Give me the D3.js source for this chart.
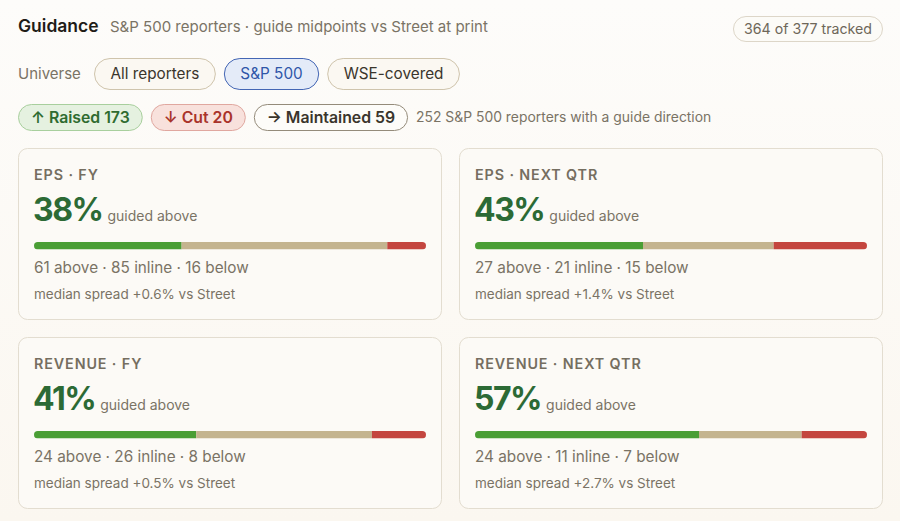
<!DOCTYPE html>
<html>
<head>
<meta charset="utf-8">
<style>
  html, body { margin: 0; padding: 0; }
  body { width: 900px; height: 521px; overflow: hidden; font-family: Inter, "Noto Sans", sans-serif; }
  svg text { font-family: Inter, "Noto Sans", sans-serif; }
</style>
</head>
<body>
<svg width="900" height="521"></svg>
<script src="https://d3js.org/d3.v7.min.js"></script>
<script>
// guide data
const universes = ["All reporters", "S&P 500", "WSE-covered"];
const activeUniverse = "S&P 500";
const directions = ["Raised", "Cut", "Maintained"];
const directionCounts = [173, 20, 59];
const cardTitles = ["EPS · FY", "EPS · NEXT QTR", "REVENUE · FY", "REVENUE · NEXT QTR"];
const above = [61, 27, 24, 24];
const inline = [85, 21, 26, 11];
const below = [16, 15, 8, 7];
const medianSpread = [0.6, 1.4, 0.5, 2.7];
const tracked = 364, trackedOf = 377;

const svg = d3.select("svg");
const W = 900, H = 521;

const defs = svg.append("defs");
const bg = defs.append("linearGradient").attr("id", "bg").attr("x1", 0).attr("y1", 0).attr("x2", 0).attr("y2", 1);
bg.append("stop").attr("offset", 0).attr("stop-color", "#fdfcfa");
bg.append("stop").attr("offset", 1).attr("stop-color", "#fbf7f0");
svg.append("rect").attr("width", W).attr("height", H).attr("fill", "url(#bg)");

const muted = "#7a7365";

// header
svg.append("text").attr("x", 18).attr("y", 32).attr("font-size", 17.5).attr("font-weight", 600)
  .attr("fill", "#1f1c17").text("Guidance");
svg.append("text").attr("x", 110).attr("y", 32).attr("font-size", 15).attr("fill", muted)
  .text("S&P 500 reporters · guide midpoints vs Street at print");

// pill helper, sized from its text
function pill(x, y, h, label, o) {
  const g = svg.append("g");
  const t = g.append("text").attr("y", y + h / 2).attr("dy", "0.35em")
    .attr("font-size", o.size).attr("font-weight", o.weight || 400).attr("fill", o.color).text(label);
  const w = t.node().getComputedTextLength() + o.pad * 2;
  const x0 = o.anchorRight ? x - w : x;
  t.attr("x", x0 + o.pad);
  g.insert("rect", "text").attr("x", x0 + 0.5).attr("y", y + 0.5).attr("width", w - 1).attr("height", h - 1)
    .attr("rx", (h - 1) / 2).attr("fill", o.fill).attr("stroke", o.stroke).attr("stroke-width", o.sw || 1);
  return x0 + w;
}

pill(883, 16, 26, `${tracked} of ${trackedOf} tracked`,
  { size: 14.2, color: "#6e6759", fill: "#fcfbf7", stroke: "#ddd6c8", pad: 11, anchorRight: true });

// universe row
svg.append("text").attr("x", 18).attr("y", 74).attr("dy", "0.35em").attr("font-size", 15).attr("fill", muted).text("Universe");
let ux = 94;
universes.forEach(u => {
  const on = u === activeUniverse;
  ux = pill(ux, 58, 32, u, {
    size: 15.3, color: on ? "#2f56a8" : "#3a352c",
    fill: on ? "#e4ebf8" : "#fbf8f2", stroke: on ? "#4466b4" : "#cfc4ac", pad: 16.5
  }) + 8;
});

// direction row
const dirStyle = {
  Raised: { arrow: "↑", color: "#2f6b30", fill: "#e5f1e0", stroke: "#a8cf9d" },
  Cut: { arrow: "↓", color: "#a9332a", fill: "#f8e1dc", stroke: "#e0a79f" },
  Maintained: { arrow: "→", color: "#3a352c", fill: "#fdfcf9", stroke: "#948b7a" }
};
let dx = 18;
directions.forEach((d, i) => {
  const s = dirStyle[d];
  dx = pill(dx, 104, 27, `${s.arrow} ${d} ${directionCounts[i]}`, {
    size: 15.8, weight: 600, color: s.color, fill: s.fill, stroke: s.stroke, pad: 13
  }) + 8;
});
svg.append("text").attr("x", dx).attr("y", 117.5).attr("dy", "0.35em").attr("font-size", 13.9).attr("fill", muted)
  .text(`${d3.sum(directionCounts)} S&P 500 reporters with a guide direction`);

// cards
const cardW = 424, cardH = 172;
const colX = [18, 459], rowY = [148, 337];
const segColors = ["#4a9e35", "#c4b48f", "#c4463f"];
const barX = d3.scaleLinear().range([0, 392]);

cardTitles.forEach((title, i) => {
  const cx = colX[i % 2], cy = rowY[Math.floor(i / 2)];
  const g = svg.append("g").attr("transform", `translate(${cx},${cy})`);
  g.append("rect").attr("x", 0.5).attr("y", 0.5).attr("width", cardW - 1).attr("height", cardH - 1).attr("rx", 9)
    .attr("fill", "#fcfaf6").attr("stroke", "#e3ddd0");

  g.append("text").attr("x", 16).attr("y", 32).attr("font-size", 14.3).attr("font-weight", 600)
    .attr("letter-spacing", 0.9).attr("fill", "#756e60").text(title);

  const vals = [above[i], inline[i], below[i]];
  const total = d3.sum(vals);
  const pct = Math.round(100 * vals[0] / total);
  const big = g.append("text").attr("x", 15).attr("y", 73).attr("font-size", 32).attr("font-weight", 700)
    .attr("letter-spacing", -1.5).attr("fill", "#2c6a35").text(`${pct}%`);
  const bw = big.node().getComputedTextLength();
  g.append("text").attr("x", 15 + bw + 5).attr("y", 73).attr("font-size", 14).attr("fill", muted).text("guided above");

  // stacked bar
  barX.domain([0, total]);
  const clipId = `clip${i}`;
  defs.append("clipPath").attr("id", clipId).append("rect")
    .attr("x", 16).attr("y", 94).attr("width", 392).attr("height", 7.5).attr("rx", 3.75);
  let acc = 0;
  const segs = vals.map(v => { const s = { x0: acc, x1: acc + v }; acc += v; return s; });
  g.append("g").attr("clip-path", `url(#${clipId})`).selectAll("rect").data(segs).join("rect")
    .attr("x", d => 16 + barX(d.x0)).attr("y", 94).attr("width", d => barX(d.x1) - barX(d.x0)).attr("height", 7.5)
    .attr("fill", (d, j) => segColors[j]);

  g.append("text").attr("x", 16).attr("y", 125).attr("font-size", 15.3).attr("fill", "#7a7365")
    .text(`${vals[0]} above · ${vals[1]} inline · ${vals[2]} below`);
  g.append("text").attr("x", 16).attr("y", 151).attr("font-size", 13.5).attr("fill", "#7a7365")
    .text(`median spread ${d3.format("+.1f")(medianSpread[i])}% vs Street`);
});
</script>
</body>
</html>
